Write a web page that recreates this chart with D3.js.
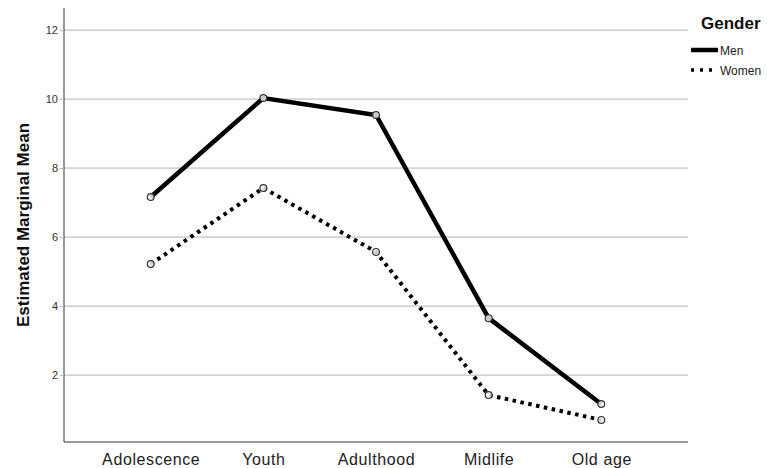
<!DOCTYPE html>
<html><head><meta charset="utf-8">
<script src="https://cdn.jsdelivr.net/npm/d3@7"></script>
<style>body{margin:0;background:#fff;overflow:hidden}svg{display:block}text{font-family:"Liberation Sans",Arial,sans-serif}</style>
</head><body>
<script>
const categories = ["Adolescence","Youth","Adulthood","Midlife","Old age"];
const men = [7.16,10.03,9.54,3.65,1.16];
const women = [5.22,7.42,5.57,1.42,0.70];
const yTicks = [2,4,6,8,10,12];
const seriesNames = ["Men","Women"];

(function(){
const W=767,H=468;
const svg=d3.select("body").append("svg").attr("width",W).attr("height",H);
const pL=64,pR=688,pT=8,pB=442;
const x=d3.scalePoint().domain(categories).range([pL,pR]).padding(0.77);
const y=d3.scaleLinear().domain([0.06,12.64]).range([pB,pT]);

svg.append("g").selectAll("line").data(yTicks).join("line")
  .attr("x1",pL).attr("x2",pR).attr("y1",d=>y(d)).attr("y2",d=>y(d))
  .attr("stroke","#b4b4b4").attr("stroke-width",1);

const ya=svg.append("g").attr("transform",`translate(${pL},0)`)
  .call(d3.axisLeft(y).tickValues(yTicks).tickSize(4).tickPadding(2).tickFormat(d3.format("d")));
ya.select(".domain").attr("stroke","#333").attr("d",`M0,${pT}V${pB}`);
ya.selectAll(".tick line").attr("stroke","#b4b4b4");
ya.selectAll("text").attr("font-size",11).attr("fill","#333");

const xa=svg.append("g").attr("transform",`translate(0,${pB})`)
  .call(d3.axisBottom(x).tickSize(0).tickPadding(12));
xa.select(".domain").attr("stroke","#333").attr("d",`M${pL},0H${pR}`);
xa.selectAll("text").attr("font-size",16).attr("letter-spacing",0.6).attr("fill","#222");

svg.append("text").attr("transform",`translate(29,${(pT+pB)/2}) rotate(-90)`)
  .attr("text-anchor","middle").attr("font-size",17).attr("font-weight","bold").attr("fill","#111")
  .text("Estimated Marginal Mean");

const line=d3.line().x((d,i)=>x(categories[i])).y(d=>y(d));
const styles=[{dash:null,w:4.5},{dash:"3.5,4.5",w:4}];
[men,women].forEach((s,k)=>{
  svg.append("path").datum(s).attr("d",line).attr("fill","none").attr("stroke","#000")
    .attr("stroke-width",styles[k].w).attr("stroke-dasharray",styles[k].dash);
  svg.append("g").selectAll("circle").data(s).join("circle")
    .attr("cx",(d,i)=>x(categories[i])).attr("cy",d=>y(d)).attr("r",3.4)
    .attr("fill","#eee").attr("fill-opacity",0.85).attr("stroke","#333").attr("stroke-width",1.2);
});

const lg=svg.append("g");
lg.append("text").attr("x",701).attr("y",29).attr("font-size",17).attr("font-weight","bold").attr("fill","#111").text("Gender");
seriesNames.forEach((n,k)=>{
  const yy=50+k*20;
  lg.append("line").attr("x1",691).attr("x2",718).attr("y1",yy).attr("y2",yy)
    .attr("stroke","#000").attr("stroke-width",k?3.5:4.5).attr("stroke-dasharray",k?"3,6":null);
  lg.append("text").attr("x",720).attr("y",yy+5).attr("font-size",12).attr("fill","#222").text(n);
});
})();
</script>
</body></html>
